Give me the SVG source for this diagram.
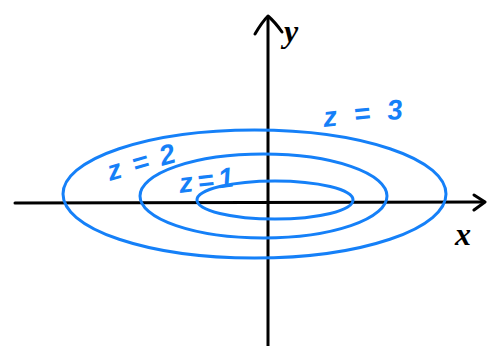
<svg xmlns="http://www.w3.org/2000/svg" width="487" height="346" viewBox="0 0 487 346">
<style>
.axis{stroke:#000;stroke-width:3;fill:none;stroke-linecap:round;stroke-linejoin:round}
.lvl{stroke:#1580f8;stroke-width:3;fill:none}
.lbl{fill:#1580f8;font-family:"Liberation Sans",sans-serif;font-style:italic;font-weight:bold;font-size:28px}
.ax{fill:#000;font-family:"Liberation Serif",serif;font-style:italic;font-weight:bold;font-size:32px}
</style>
<rect width="487" height="346" fill="#fff"/>
<g id="connectors">
<path class="axis" d="M268 346 L268 17"/>
<path class="axis" d="M255 34 Q262 22 268 16 Q275 22 282 32"/>
<path class="axis" d="M15 203 L484 202"/>
<path class="axis" d="M474 195 L485 202 L474 210"/>
</g>
<g id="level3"><ellipse class="lvl" cx="254.5" cy="194" rx="191.5" ry="64"/><text class="lbl" x="324" y="127" textLength="80" lengthAdjust="spacing" transform="rotate(-6 324 127)">z = 3</text></g>
<g id="level2"><ellipse class="lvl" cx="263.5" cy="196" rx="123.5" ry="42"/><text class="lbl" x="110" y="181" textLength="70" lengthAdjust="spacing" transform="rotate(-16 110 181)">z=2</text></g>
<g id="level1"><ellipse class="lvl" cx="275" cy="200" rx="78" ry="19"/><text class="lbl" x="180" y="193" font-size="25" textLength="55" lengthAdjust="spacing" transform="rotate(-7 180 193)">z=1</text></g>
<g id="xlabel"><text class="ax" x="455" y="245">x</text></g>
<g id="ylabel"><text class="ax" x="284" y="42">y</text></g>
</svg>
